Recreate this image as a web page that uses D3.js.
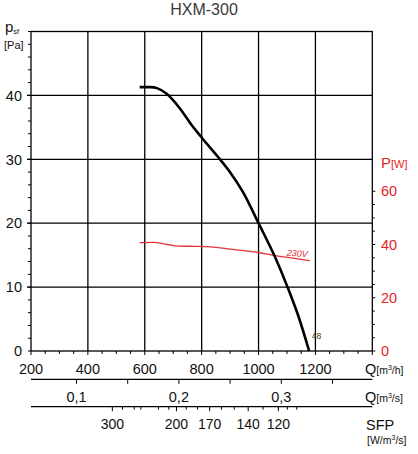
<!DOCTYPE html>
<html><head><meta charset="utf-8">
<script src="https://cdn.jsdelivr.net/npm/d3@7"></script>
<style>
html,body{margin:0;padding:0;background:#fff;}
svg{display:block;font-family:"Liberation Sans",Arial,sans-serif;}
</style></head>
<body>
<svg id="c" width="418" height="454"></svg>
<script>
// ---- data ----
const title = "HXM-300";
const qTicks = [200, 400, 600, 800, 1000, 1200];          // m3/h labels
const qsTicks = [0.1, 0.2, 0.3];                           // m3/s labels
const pTicks = [0, 10, 20, 30, 40];                        // Pa labels
const powerTicks = [0, 20, 40, 60];                        // W labels
const sfpMajor = [300, 200, 170, 140, 120];
const sfpMinor = [280, 260, 250, 225, 210, 190, 180, 160, 150, 130, 115, 110];
// pressure curve (Q m3/h, p Pa)
const curveQ = [582, 620, 645, 676, 723, 764, 802, 857, 898, 945, 1000, 1058, 1102, 1142, 1178];
const curveP = [41.3, 41.3, 41.1, 40.3, 38.0, 35.4, 33.3, 30.4, 28.1, 24.9, 20.0, 14.7, 10.0, 5.2, 0];
// power curve (Q m3/h, P W)
const powerQ = [582, 630, 680, 720, 780, 830, 900, 1000, 1060, 1120, 1180];
const powerP = [40.7, 40.8, 40.0, 39.4, 39.3, 39.1, 38.3, 37.0, 35.8, 34.9, 33.9];
const powerLabel = "230V";
const pointLabel = "48";

// ---- scales ----
const L = 31, R = 372.3, T = 31.5, B = 351;
const x = d3.scaleLinear().domain([200, 1400]).range([L, R]);
const y = d3.scaleLinear().domain([0, 50]).range([B, T]);
const yP = d3.scaleLinear().domain([0, 120]).range([B, T]);
const pw = d3.scaleLinear().domain(powerQ).range(powerP);

const svg = d3.select("#c");
const red = "#e4242b";
const fs = 14.5;

// title
svg.append("text").attr("x", 204).attr("y", 14.5).attr("text-anchor", "middle")
  .attr("font-size", 16).attr("fill", "#3a3a3a").text(title);

// grid
const g = svg.append("g").attr("stroke", "#000").attr("stroke-width", 1.3);
d3.range(400, 1400, 200).forEach(v => g.append("line")
  .attr("x1", x(v)).attr("x2", x(v)).attr("y1", T).attr("y2", B));
d3.range(10, 50, 10).forEach(v => g.append("line")
  .attr("x1", L - 4).attr("x2", R).attr("y1", y(v)).attr("y2", y(v)));
g.append("rect").attr("x", L).attr("y", T).attr("width", R - L).attr("height", B - T).attr("fill", "none");

// left axis minor ticks
const lt = svg.append("g").attr("stroke", "#000").attr("stroke-width", 1);
d3.range(0, 51, 2).forEach(v => lt.append("line")
  .attr("x1", L - 3).attr("x2", L).attr("y1", y(v)).attr("y2", y(v)));
// left labels
pTicks.forEach(v => svg.append("text").attr("x", 22).attr("y", y(v) + 5.2)
  .attr("text-anchor", "end").attr("font-size", fs).attr("fill", "#111").text(v));
const pl = svg.append("text").attr("x", 5).attr("y", 32).attr("fill", "#111");
pl.append("tspan").attr("font-size", 15).text("p");
pl.append("tspan").attr("font-size", 7.5).attr("dy", 1.5).text("sf");
svg.append("text").attr("x", 4).attr("y", 49).attr("font-size", 11).attr("fill", "#111").text("[Pa]");

// right axis (power)
d3.range(0, 61, 5).forEach(v => lt.append("line")
  .attr("x1", R).attr("x2", R + (v % 20 === 0 ? 3 : 2.5)).attr("y1", yP(v)).attr("y2", yP(v)));
powerTicks.forEach(v => svg.append("text").attr("x", 381).attr("y", yP(v) + 5.2)
  .attr("font-size", fs).attr("fill", red).text(v));
const plw = svg.append("text").attr("x", 381).attr("y", 168).attr("fill", red);
plw.append("tspan").attr("font-size", 15).text("P");
plw.append("tspan").attr("font-size", 11).text("[W]");

// bottom axis m3/h
d3.range(200, 1401, 50).forEach(v => lt.append("line")
  .attr("x1", x(v)).attr("x2", x(v)).attr("y1", B).attr("y2", B + (v % 200 === 0 ? 4 : 3)));
qTicks.forEach(v => svg.append("text").attr("x", x(v)).attr("y", 373.5)
  .attr("text-anchor", "middle").attr("font-size", fs).attr("fill", "#111").text(v));
const ql = svg.append("text").attr("x", 365).attr("y", 373.5).attr("fill", "#111");
ql.append("tspan").attr("font-size", 14.5).text("Q");
ql.append("tspan").attr("font-size", 10.5).text("[m");
ql.append("tspan").attr("font-size", 7).attr("dy", -4).text("3");
ql.append("tspan").attr("font-size", 10.5).attr("dy", 4).text("/h]");

// m3/s axis
const yS = 379.3;
svg.append("line").attr("x1", L).attr("x2", R).attr("y1", yS).attr("y2", yS)
  .attr("stroke", "#000").attr("stroke-width", 1.2);
d3.range(0.1, 0.36, 0.05).forEach(v => lt.append("line")
  .attr("x1", x(v * 3600)).attr("x2", x(v * 3600)).attr("y1", yS).attr("y2", yS + 4.5));
qsTicks.forEach(v => svg.append("text").attr("x", x(v * 3600)).attr("y", 401.5)
  .attr("text-anchor", "middle").attr("font-size", fs).attr("fill", "#111")
  .text(d3.format(".1f")(v).replace(".", ",")));
const qs = svg.append("text").attr("x", 365).attr("y", 401.5).attr("fill", "#111");
qs.append("tspan").attr("font-size", 14.5).text("Q");
qs.append("tspan").attr("font-size", 10.5).text("[m");
qs.append("tspan").attr("font-size", 7).attr("dy", -4).text("3");
qs.append("tspan").attr("font-size", 10.5).attr("dy", 4).text("/s]");

// SFP axis: position where P(Q)/Q[m3/s] equals the SFP value
function sfpQ(s) {
  let lo = 300, hi = 1400;
  for (let i = 0; i < 50; i++) {
    const m = (lo + hi) / 2;
    if (pw(m) / (m / 3600) > s) lo = m; else hi = m;
  }
  return (lo + hi) / 2;
}
const yF = 406.7;
svg.append("line").attr("x1", L).attr("x2", R).attr("y1", yF).attr("y2", yF)
  .attr("stroke", "#000").attr("stroke-width", 1.2);
sfpMajor.forEach(s => lt.append("line").attr("x1", x(sfpQ(s))).attr("x2", x(sfpQ(s)))
  .attr("y1", yF).attr("y2", yF + 4.5));
sfpMinor.forEach(s => lt.append("line").attr("x1", x(sfpQ(s))).attr("x2", x(sfpQ(s)))
  .attr("y1", yF).attr("y2", yF + 3));
sfpMajor.forEach(s => svg.append("text").attr("x", x(sfpQ(s))).attr("y", 428.5)
  .attr("text-anchor", "middle").attr("font-size", 14).attr("fill", "#111").text(s));
svg.append("text").attr("x", 366).attr("y", 429.5).attr("font-size", 14.5).attr("fill", "#111").text("SFP");
const sf = svg.append("text").attr("x", 367).attr("y", 444).attr("fill", "#111");
sf.append("tspan").attr("font-size", 10.5).text("[W/m");
sf.append("tspan").attr("font-size", 7).attr("dy", -4).text("3");
sf.append("tspan").attr("font-size", 10.5).attr("dy", 4).text("/s]");

// power curve
const pdata = powerQ.map((q, i) => [q, powerP[i]]);
svg.append("path").datum(pdata)
  .attr("d", d3.line().x(d => x(d[0])).y(d => yP(d[1])).curve(d3.curveMonotoneX))
  .attr("fill", "none").attr("stroke", "#e0333a").attr("stroke-width", 1.3);
svg.append("text").attr("transform", `translate(${x(1098)},${yP(pw(1098)) - 1.5}) rotate(4)`)
  .attr("font-size", 9).attr("font-style", "italic").attr("fill", red).text(powerLabel);

// pressure curve
const cdata = curveQ.map((q, i) => [q, curveP[i]]);
svg.append("path").datum(cdata)
  .attr("d", d3.line().x(d => x(d[0])).y(d => y(d[1])).curve(d3.curveMonotoneX))
  .attr("fill", "none").attr("stroke", "#000").attr("stroke-width", 2.6);
svg.append("text").attr("x", x(curveQ[curveQ.length - 1]) + 2.5).attr("y", y(1.9))
  .attr("font-size", 8.5).attr("fill", "#333").text(pointLabel);
</script>
</body></html>
